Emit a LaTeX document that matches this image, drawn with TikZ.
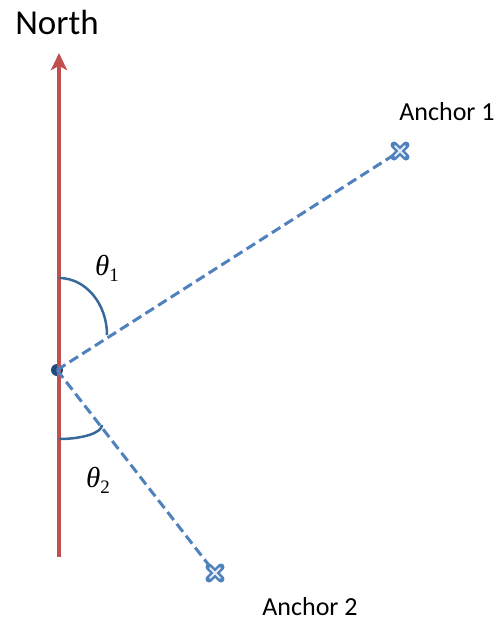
\documentclass[tikz,border=0pt]{standalone}
\usepackage{fontspec}
\setmainfont{Carlito}
\newfontfamily\tmsfont{Liberation Serif}
\usetikzlibrary{arrows.meta,calc}
\definecolor{northred}{RGB}{192,80,77}
\definecolor{dashblue}{RGB}{79,129,189}
\definecolor{dotblue}{RGB}{31,73,125}
\definecolor{arcblue}{RGB}{55,105,155}
\tikzset{
  ray/.style={draw=dashblue, line width=3pt, dash pattern=on 10pt off 5pt},
  anglearc/.style={draw=arcblue, line width=2.5pt},
  lbl/.style={inner sep=0pt, font=\fontsize{26}{30}\selectfont},
  ang/.style={inner sep=0pt, font=\tmsfont\fontsize{29}{32}\selectfont},
  crossout/.style={draw=dashblue, line width=7pt, line cap=round},
  crossin/.style={draw=white!85!dashblue, line width=2pt, line cap=round},
}
\newcommand{\angsym}[1]{{\itshape θ}\raisebox{-6pt}{\fontsize{19}{20}\selectfont #1}}
\begin{document}
\begin{tikzpicture}[x=1pt,y=-1pt]
\useasboundingbox[fill=white] (0,0) rectangle (499,622);
% points
\coordinate (bottom) at (59,557);
\coordinate (top) at (59,53);
\coordinate (O) at (57,370);
\coordinate (a1) at (400,151);
\coordinate (a2) at (215,573);
% dot
\fill[dotblue] (O) circle (6);
% north arrow
\draw[northred, line width=3.5pt, -{Stealth[length=17pt,width=16pt,inset=4pt]}] (bottom) -- (top);
\node[inner sep=0pt, font=\fontsize{35}{40}\selectfont] (north) at (57,22) {North};
% rays
\draw[ray] (O) -- (a1);
\draw[ray] (O) -- (a2);
% crosses
\foreach \p in {a1,a2}{
  \draw[crossout] ($(\p)+(-6,-6)$) -- ($(\p)+(6,6)$);
  \draw[crossout] ($(\p)+(-6,6)$) -- ($(\p)+(6,-6)$);
  \draw[crossin] ($(\p)+(-5,-5)$) -- ($(\p)+(5,5)$);
  \draw[crossin] ($(\p)+(-5,5)$) -- ($(\p)+(5,-5)$);
}
% angle arcs
\coordinate (arcA) at (59,278);
\coordinate (arcB) at (59,439);
\draw[anglearc] (arcA) arc[start angle=90, end angle=0, x radius=48, y radius=-57];
\draw[anglearc] (arcB) arc[start angle=-90, end angle=0, x radius=43, y radius=-14];
% labels
\node[ang] (t1) at (107,268) {\angsym{1}};
\node[ang] (t2) at (98,480) {\angsym{2}};
\node[lbl] (l1) at (447,112) {Anchor 1};
\node[lbl] (l2) at (310,607) {Anchor 2};
\end{tikzpicture}
\end{document}
